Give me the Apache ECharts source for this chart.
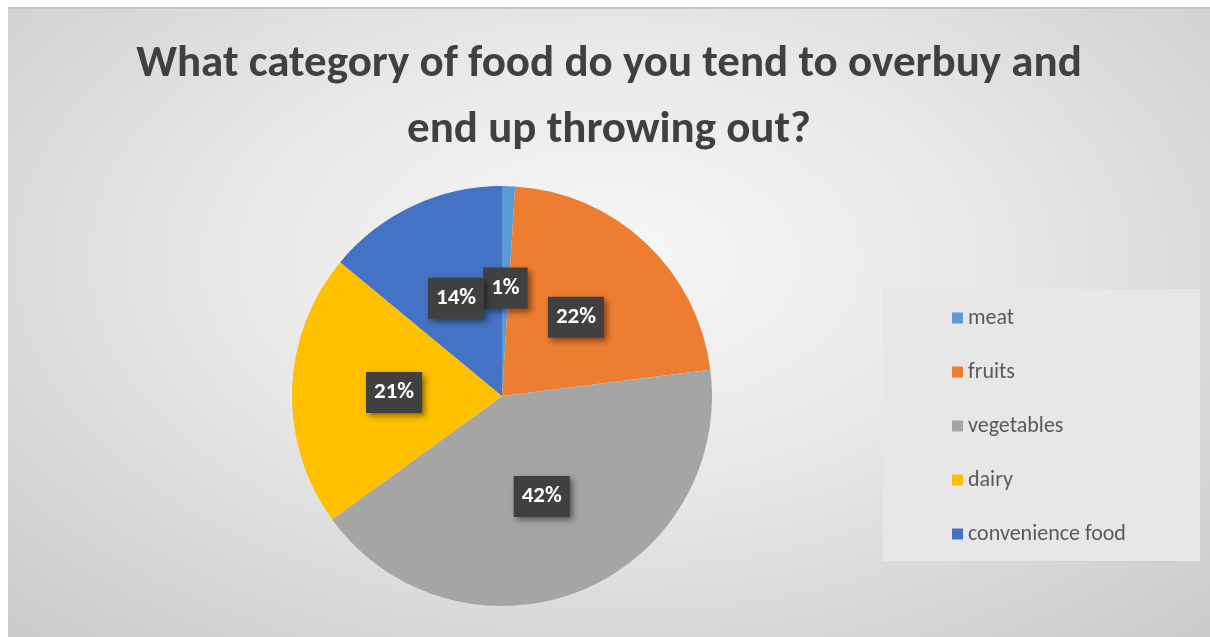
<!DOCTYPE html>
<html>
<head>
<meta charset="utf-8">
<script src="https://cdn.jsdelivr.net/npm/echarts@6/dist/echarts.min.js"></script>
<style>
  html, body { margin: 0; padding: 0; background: #ffffff; width: 1210px; height: 637px; overflow: hidden; }
  #chart {
    position: absolute; left: 8px; top: 7px; width: 1202px; height: 628px;
    border-top: 2px solid #c6c6c6;
    background: radial-gradient(ellipse 75% 85% at 50% 40%, #f6f6f6 0%, #e9e9e9 40%, #d6d6d6 75%, #c8c8c8 100%);
  }
</style>
</head>
<body>
<div id="chart"></div>
<script>
const titleLines = ['What category of food do you tend to overbuy and', 'end up throwing out?'];
const categories = ['meat', 'fruits', 'vegetables', 'dairy', 'convenience food'];
const values = [1, 22, 42, 21, 14];
const colors = ['#5B9BD5', '#ED7D31', '#A5A5A5', '#FFC000', '#4472C4'];

const FONT = 'Carlito, Lato, "Open Sans", sans-serif';
const chart = echarts.init(document.getElementById('chart'), null, { renderer: 'canvas' });

chart.setOption({
  backgroundColor: 'transparent',
  animation: false,
  title: {
    text: titleLines.join('\n'),
    left: 'center',
    top: 18,
    textStyle: {
      fontFamily: FONT, fontSize: 45, fontWeight: 'bold', color: '#404040', lineHeight: 66
    }
  },
  graphic: [{
    type: 'rect', z: 0, silent: true,
    shape: { x: 875, y: 280, width: 317, height: 272 },
    style: { fill: '#e7e7e7' }
  }],
  legend: {
    orient: 'vertical',
    left: 944,
    top: 297,
    padding: 0,
    itemWidth: 11,
    itemHeight: 11,
    itemGap: 30,
    icon: 'rect',
    data: categories,
    textStyle: { fontFamily: FONT, fontSize: 22, color: '#595959', lineHeight: 24 }
  },
  series: [{
    type: 'pie',
    center: [494, 387],
    radius: 210,
    startAngle: 90,
    clockwise: true,
    avoidLabelOverlap: false,
    minShowLabelAngle: 0,
    labelLayout: { hideOverlap: false },
    itemStyle: { borderWidth: 0 },
    label: {
      show: true,
      position: 'inside',
      formatter: p => p.value + '%',
      fontFamily: FONT,
      fontSize: 23,
      fontWeight: 'bold',
      color: '#ffffff',
      backgroundColor: '#404040',
      padding: [8, 8, 8, 8],
      lineHeight: 25,
      shadowColor: 'rgba(0,0,0,0.45)',
      shadowBlur: 6,
      shadowOffsetX: 3,
      shadowOffsetY: 3
    },
    labelLine: { show: false },
    emphasis: { disabled: true },
    data: categories.map((c, i) => ({ name: c, value: values[i], itemStyle: { color: colors[i] } }))
  }]
});
</script>
</body>
</html>
